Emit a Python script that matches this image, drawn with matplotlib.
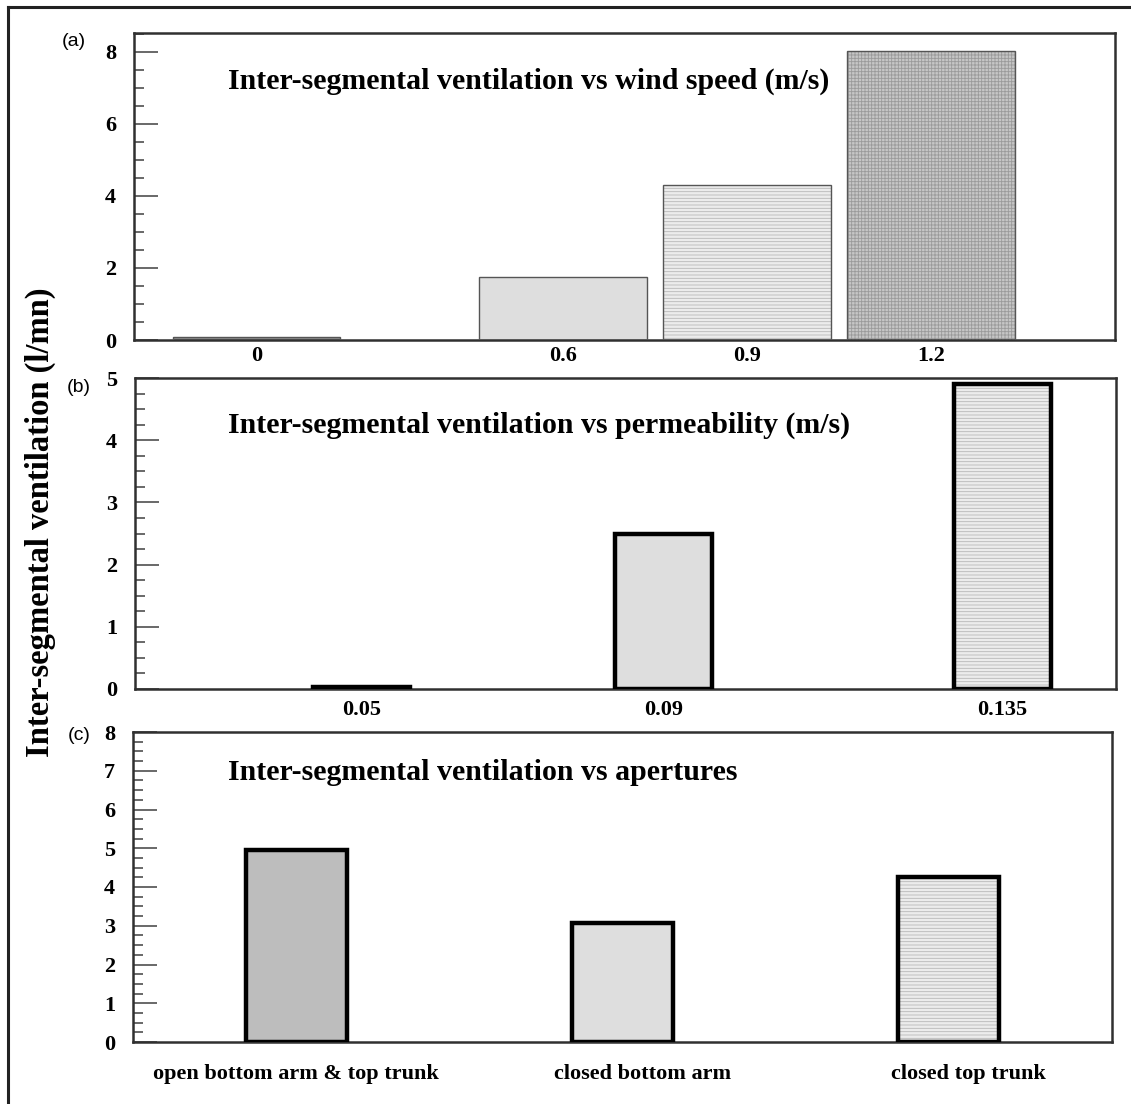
import matplotlib
matplotlib.use("Agg")
import matplotlib.pyplot as plt
from matplotlib.ticker import MultipleLocator

# ---------------- data ----------------
wind_labels = ["0", "0.6", "0.9", "1.2"]
wind_values = [0.08, 1.75, 4.3, 8.02]

perm_values_x = [0.05, 0.09, 0.135]
perm_labels = ["0.05", "0.09", "0.135"]
perm_values = [0.03, 2.5, 4.9]

aperture_labels = ["open bottom arm & top trunk", "closed bottom arm", "closed top trunk"]
aperture_values = [4.95, 3.07, 4.25]

titles = ["Inter-segmental ventilation vs wind speed (m/s)",
          "Inter-segmental ventilation vs permeability (m/s)",
          "Inter-segmental ventilation vs apertures"]
panel_tags = ["(a)", "(b)", "(c)"]
ylabel = "Inter-segmental ventilation (l/mn)"

# ---------------- layout / style ----------------
plt.rcParams["hatch.linewidth"] = 0.6
SERIF = ["Liberation Serif", "DejaVu Serif"]
SANS = ["Liberation Sans", "DejaVu Sans"]

W, H = 1131, 1104
fig = plt.figure(figsize=(W / 100, H / 100), dpi=100)

def px_axes(l, t, r, b):
    return fig.add_axes([l / W, 1 - b / H, (r - l) / W, (b - t) / H])

def style_axes(ax, major, minor, xpad, xsize=16):
    for s in ax.spines.values():
        s.set_linewidth(1.8)
        s.set_color("#303030")
    ax.yaxis.set_major_locator(MultipleLocator(major))
    ax.yaxis.set_minor_locator(MultipleLocator(minor))
    ax.tick_params(axis="y", which="major", direction="in", length=17, width=1.1,
                   color="#404040", pad=13)
    ax.tick_params(axis="y", which="minor", direction="in", length=7.5, width=1.1,
                   color="#404040")
    ax.tick_params(axis="x", which="both", length=0, pad=xpad)
    for lab in ax.get_yticklabels():
        lab.set_fontfamily(SERIF)
        lab.set_fontweight("bold")
        lab.set_fontsize(16)
    for lab in ax.get_xticklabels():
        lab.set_fontfamily(SERIF)
        lab.set_fontweight("bold")
        lab.set_fontsize(xsize)

# styles per bar: (facecolor, hatch, hatchcolor)
FILL_LIGHT = ("#dedede", None, None)
FILL_MED = ("#bdbdbd", None, None)
FILL_HLINES = ("#ececec", "-----", "#b8b8b8")
FILL_GRID = ("#c6c6c6", "+++++", "#9a9a9a")
FILL_DARK = ("#8c8c8c", None, None)

def draw_bars(ax, x, h, width, styles, edge, lw):
    for xi, hi, (fc, hatch, hc) in zip(x, h, styles):
        ax.bar([xi], [hi], width=width, color=fc, linewidth=0,
               hatch=hatch, edgecolor=hc if hc else fc, zorder=2)
        ax.bar([xi], [hi], width=width, fill=False, edgecolor=edge,
               linewidth=lw, zorder=3)

# ---- panel (a) ----
axa = px_axes(134, 33, 1115, 340)
wind_pos = [0.1, 0.6, 0.9, 1.2]
draw_bars(axa, wind_pos, wind_values, 0.273,
          [FILL_DARK, FILL_LIGHT, FILL_HLINES, FILL_GRID], "#555555", 1.0)
axa.set_xlim(-0.1, 1.5)
axa.set_ylim(0, 8.52)
axa.set_xticks(wind_pos)
axa.set_xticklabels(wind_labels)
style_axes(axa, 2, 0.5, 4)

# ---- panel (b) ----
axb = px_axes(135, 378, 1116, 689)
draw_bars(axb, perm_values_x, perm_values, 0.0129,
          [FILL_LIGHT, FILL_LIGHT, FILL_HLINES], "black", 3.2)
axb.set_xlim(0.0199, 0.1501)
axb.set_ylim(0, 5)
axb.set_xticks(perm_values_x)
axb.set_xticklabels(perm_labels)
style_axes(axb, 1, 0.25, 8)

# ---- panel (c) ----
axc = px_axes(133, 732, 1112, 1042)
ap_pos = [0.5, 1.5, 2.5]
ap_label_pos = [0.5, 1.56, 2.56]
draw_bars(axc, ap_pos, aperture_values, 0.31,
          [FILL_MED, FILL_LIGHT, FILL_HLINES], "black", 3.2)
axc.set_xlim(0, 3)
axc.set_ylim(0, 8)
axc.set_xticks(ap_label_pos)
axc.set_xticklabels(aperture_labels)
style_axes(axc, 1, 0.25, 16, xsize=16)

# ---- titles, panel tags, y label ----
title_base = [89, 433, 780]
tag_pos = [(62, 46), (67, 392), (68, 740)]
for t, yb in zip(titles, title_base):
    fig.text(228 / W, 1 - yb / H, t, fontfamily=SERIF, fontweight="bold",
             fontsize=21.5, va="baseline", ha="left")
for tag, (xl, yb) in zip(panel_tags, tag_pos):
    fig.text(xl / W, 1 - yb / H, tag, fontfamily=SANS, fontsize=14,
             va="baseline", ha="left")

fig.text(40 / W, 1 - 522 / H, ylabel, fontfamily=SERIF, fontweight="bold",
         fontsize=23.5, rotation=90, va="center", ha="center")

# ---- outer frame (top & left edges) ----
fig.add_artist(plt.Line2D([8 / W, 1.0], [1 - 7 / H, 1 - 7 / H],
                          transform=fig.transFigure, color="#222222", lw=2.2))
fig.add_artist(plt.Line2D([8 / W, 8 / W], [1 - 7 / H, 0.0],
                          transform=fig.transFigure, color="#222222", lw=2.2))

fig.savefig("out.png", dpi=100)
